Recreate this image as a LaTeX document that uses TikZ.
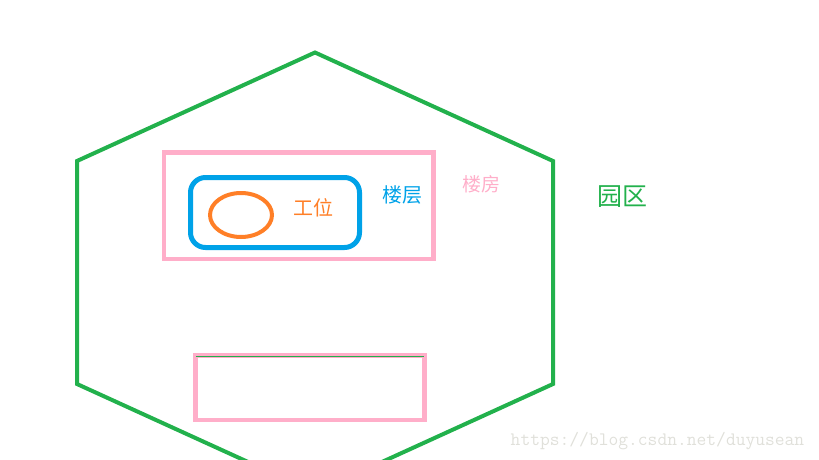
\documentclass[tikz,border=0pt]{standalone}
\usepackage{fontspec}
\newfontfamily\cjk{Noto Sans CJK SC}
\usepackage{tikz}
\usetikzlibrary{calc,shapes.geometric}
\definecolor{paintgreen}{RGB}{34,177,76}
\definecolor{paintpink}{RGB}{255,174,201}
\definecolor{paintblue}{RGB}{0,162,232}
\definecolor{paintorange}{RGB}{255,127,39}
\definecolor{markgray}{RGB}{224,224,218}
\newcommand{\clrpark}{paintgreen}
\newcommand{\clrbuilding}{paintpink}
\newcommand{\clrfloor}{paintblue}
\newcommand{\clrdesk}{paintorange}

\begin{document}
\begin{tikzpicture}[x=1pt, y=-1pt]
    \useasboundingbox (0,0) rectangle (819,460);
    \clip (0,0) rectangle (819,460);

    \draw[\clrpark, line width=4pt] (315,52.5) -- (553,161) -- (553,384)
        -- (315,492.5) -- (77,384) -- (77,161) -- cycle;

    \node[draw=\clrbuilding, line width=4.5pt, minimum width=269.5pt, minimum height=106.5pt, inner sep=0pt] (building) at (298.75,205.75) {};
    \node[draw=\clrfloor, line width=5pt, rounded corners=15pt, minimum width=169pt, minimum height=70pt, inner sep=0pt] (floor) at (275,212.5) {};
    \node[draw=\clrdesk, ellipse, line width=4pt, minimum width=62pt, minimum height=44pt, inner sep=0pt] (desk) at (241,215) {};

    \node[\clrdesk, font=\cjk\fontsize{20}{24}\selectfont] (desklabel) at (313.5,208) {工位};
    \node[\clrfloor, font=\cjk\fontsize{20}{24}\selectfont] (floorlabel) at (402.5,195) {楼层};
    \node[\clrbuilding, font=\cjk\fontsize{19}{23}\selectfont] (buildinglabel) at (481.5,184.5) {楼房};
    \node[\clrpark, font=\cjk\fontsize{25}{30}\selectfont] (parklabel) at (622,196.5) {园区};

    \node[draw=\clrbuilding, line width=4.5pt, minimum width=229pt, minimum height=64.5pt, inner sep=0pt] (building2) at (310,387.75) {};
    \draw[\clrpark, line width=1pt] ([xshift=2.5pt,yshift=-3pt]building2.north west) -- ([xshift=-2.5pt,yshift=-3pt]building2.north east);

    \node[markgray, font=\ttfamily\fontsize{19}{22}\selectfont] (mark) at (657.5,441) {https://blog.csdn.net/duyusean};
\end{tikzpicture}
\end{document}
